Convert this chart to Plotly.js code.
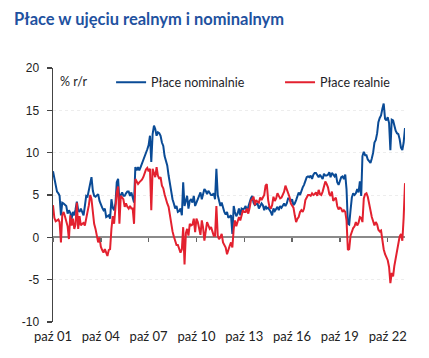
<!DOCTYPE html>
<html>
<head>
<meta charset="utf-8">
<script src="https://cdn.plot.ly/plotly-3.0.1.min.js"></script>
<style>html,body{margin:0;padding:0;background:#fff;}#chart{width:429px;height:358px;}</style>
</head>
<body>
<div id="chart"></div>
<script>
// Monthly series, first month = October 2001
const startYear = 2001, startMonth = 10;

const nominal = [
 7.8, 6.9, 5.9, 5.4, 5.2, 4.9, 2.6, 4.1, 4.0, 3.9,
 3.7, 2.8, 3.2, 2.9, 2.2, 3.0, 2.6, 3.3, 4.2, 3.2,
 3.0, 3.4, 3.0, 2.6, 3.7, 4.9, 4.8, 5.5, 6.5, 7.1,
 5.5, 4.9, 4.8, 5.0, 5.1, 4.3, 3.8, 3.5, 3.2, 3.4,
 2.4, 2.5, 2.6, 2.2, 4.5, 3.5, 3.2, 4.0, 6.5, 6.9,
 4.3, 5.0, 5.3, 4.9, 4.9, 5.2, 5.4, 5.4, 4.9, 5.3,
 4.5, 4.1, 8.3, 7.9, 8.3, 7.9, 8.3, 8.7, 9.1, 9.4,
 10.0, 10.4, 10.9, 12.0, 8.9, 12.2, 13.2, 12.8, 12.0, 12.4,
 12.3, 12.0, 11.2, 10.8, 9.6, 9.0, 8.5, 7.3, 6.3, 5.3,
 4.5, 4.0, 3.4, 3.7, 3.0, 3.1, 3.4, 2.6, 6.5, 3.7,
 4.3, 4.9, 3.4, 4.3, 4.5, 4.1, 4.9, 3.7, 4.1, 4.6,
 5.0, 5.3, 4.5, 5.2, 5.7, 5.5, 5.1, 5.5, 5.3, 5.0,
 5.0, 5.2, 4.5, 8.1, 5.0, 4.2, 3.7, 4.1, 3.5, 3.0,
 2.7, 3.0, 2.3, 2.5, 2.6, 0.4, 3.7, 3.0, 2.5, 2.8,
 3.4, 2.6, 3.4, 3.3, 3.4, 3.7, 3.0, 3.6, 4.2, 4.6,
 4.9, 4.1, 3.8, 3.9, 4.0, 3.4, 3.7, 4.0, 3.8, 3.2,
 3.7, 3.4, 3.5, 3.3, 3.0, 2.6, 3.4, 3.1, 3.3, 3.6,
 3.2, 3.7, 3.5, 3.8, 4.0, 3.7, 4.0, 4.6, 4.6, 4.2,
 4.5, 3.8, 4.0, 4.4, 4.9, 5.3, 5.0, 5.5, 5.9, 6.2,
 6.7, 7.1, 7.2, 7.1, 7.3, 6.9, 7.4, 7.6, 7.6, 7.3,
 7.1, 7.4, 7.2, 6.9, 7.5, 7.3, 7.3, 7.4, 7.7, 7.1,
 7.6, 7.4, 7.2, 7.5, 6.5, 6.2, 6.6, 7.1, 7.2, 6.9,
 7.4, 5.7, 1.6, 1.5, 3.2, 4.7, 5.2, 5.0, 5.2, 5.7,
 5.3, 6.6, 4.9, 9.6, 10.1, 9.7, 9.7, 9.2, 9.0, 8.8,
 9.3, 10.0, 11.2, 11.5, 12.3, 13.6, 14.1, 14.4, 15.2, 15.8,
 14.0, 13.8, 14.2, 13.5, 10.3, 13.9, 13.8, 13.0, 12.6, 12.3,
 12.2, 11.6, 10.6, 10.3, 11.2, 12.9
];

const real = [
 3.8, 2.3, 1.9, 2.0, 2.1, 1.8, -0.6, 2.6, 3.0, 2.5,
 1.8, 1.3, -0.2, 2.6, 1.4, 2.2, 1.0, 1.5, 4.1, 1.0,
 2.5, 1.4, 1.6, 1.7, 1.4, 2.5, 3.0, 3.8, 5.0, 4.5,
 3.0, 1.6, 1.0, 0.3, -0.6, 0.0, -1.1, -1.5, -1.8, -1.4,
 -2.0, -2.2, -1.5, -1.4, 1.0, 2.5, 1.6, 3.5, 5.3, 6.0,
 1.6, 4.9, 4.6, 4.5, 3.6, 4.0, 3.6, 3.4, 3.7, 3.4,
 3.4, 1.6, 6.9, 6.6, 6.3, 6.5, 6.6, 6.8, 7.1, 7.6,
 8.0, 8.2, 7.8, 8.1, 3.2, 8.1, 7.6, 7.1, 8.3, 7.3,
 6.9, 7.1, 6.1, 5.8, 5.1, 4.4, 4.0, 3.6, 2.4, 1.5,
 0.7, 0.1, -0.4, -0.9, -0.9, -1.3, -1.8, -1.4, 1.2, -3.2,
 0.5, 1.0, 0.2, 1.6, 1.4, 1.5, 2.2, 0.6, 2.2, 1.8,
 1.0, 0.3, 2.0, 1.2, -0.4, 0.5, 1.8, 1.4, 1.0, 1.2,
 0.6, 0.2, 0.2, 3.7, 0.2, -0.2, 0.0, 0.4, -0.6, -0.9,
 -1.2, -2.0, -1.4, -1.0, -0.6, -1.2, 1.0, 2.0, 1.3, 2.0,
 2.4, 2.0, 2.6, 3.2, 3.0, 3.0, 3.4, 2.8, 3.5, 4.3,
 4.5, 4.8, 3.8, 4.4, 4.2, 4.1, 4.7, 4.4, 4.7, 5.0,
 6.1, 6.3, 4.4, 3.6, 3.4, 3.8, 4.8, 4.3, 4.6, 5.2,
 4.9, 4.6, 4.7, 5.0, 5.4, 6.1, 5.6, 5.4, 4.8, 4.0,
 3.7, 3.5, 2.6, 1.8, 2.2, 2.4, 3.0, 3.2, 3.0, 3.4,
 4.4, 4.8, 5.0, 5.0, 4.9, 5.2, 5.0, 5.1, 5.3, 4.9,
 5.6, 5.1, 5.0, 5.4, 6.1, 6.6, 6.3, 5.9, 5.1, 4.9,
 5.4, 4.3, 4.5, 4.7, 3.7, 3.3, 3.5, 3.4, 3.0, 3.2,
 3.0, 2.0, -1.5, -1.4, 0.2, 0.8, 1.1, 1.3, 1.8, 1.4,
 1.7, 2.4, 2.3, 1.8, 4.6, 5.1, 5.2, 4.8, 4.0, 2.8,
 2.4, 1.9, 1.4, 1.8, 1.5, 0.9, 0.7, 0.8, -0.6, -1.4,
 -2.0, -2.3, -2.7, -3.5, -5.4, -4.2, -4.6, -3.4, -2.5, -1.6,
 -0.5, 0.1, 0.4, -0.4, 2.3, 6.4
];

const tickDates = ['2001-10-01','2004-10-01','2007-10-01','2010-10-01','2013-10-01','2016-10-01','2019-10-01','2022-10-01'];
const tickLabels = ['paź 01','paź 04','paź 07','paź 10','paź 13','paź 16','paź 19','paź 22'];
const yTickValues = [-10, -5, 0, 5, 10, 15, 20];
const yTickLabels = ['-10', '-5', '0', '5', '10', '15', '20'];
const seriesNames = ['Płace nominalnie', 'Płace realnie'];

// month dates
const dates = nominal.map((_, i) => {
  const t = (startMonth - 1) + i;
  const y = startYear + Math.floor(t / 12);
  const m = (t % 12) + 1;
  return y + '-' + String(m).padStart(2, '0') + '-01';
});

const BLUE = '#0a4b96', RED = '#e3212f';

const traces = [
  {x: dates, y: nominal, type: 'scatter', mode: 'lines', name: seriesNames[0],
   line: {color: BLUE, width: 2}, legend: 'legend', xaxis: 'x', yaxis: 'y'},
  {x: dates, y: real, type: 'scatter', mode: 'lines', name: seriesNames[1],
   line: {color: RED, width: 2}, legend: 'legend2', xaxis: 'x2', yaxis: 'y'}
];

const xr = [dates[0], dates[dates.length - 1]];
const legendFont = {family: 'Lato, sans-serif', size: 12.5, color: '#1e1e28'};

const layout = {
  width: 429, height: 358,
  margin: {l: 53, r: 24, t: 68, b: 36, pad: 0},
  paper_bgcolor: '#ffffff', plot_bgcolor: '#ffffff',
  title: {
    text: 'Płace w ujęciu realnym i nominalnym',
    font: {family: 'Lato, sans-serif', size: 16.5, color: '#1f52a0', weight: 700},
    x: 14 / 429, xanchor: 'left', xref: 'container',
    y: 1 - 19 / 358, yanchor: 'middle', yref: 'container'
  },
  showlegend: true,
  legend: {x: 0.165, xanchor: 'left', y: 0.942, yanchor: 'middle', orientation: 'h',
           font: legendFont, bgcolor: 'rgba(0,0,0,0)', borderwidth: 0},
  legend2: {x: 0.645, xanchor: 'left', y: 0.942, yanchor: 'middle', orientation: 'h',
           font: legendFont, bgcolor: 'rgba(0,0,0,0)', borderwidth: 0},
  xaxis: {
    type: 'date', range: xr, showgrid: false, zeroline: false, showline: false,
    ticks: '', tickmode: 'array', tickvals: tickDates, ticktext: tickLabels,
    tickfont: {family: 'Lato, sans-serif', size: 13, color: '#222'},
    ticklabelstandoff: 5, fixedrange: true
  },
  xaxis2: {
    type: 'date', range: xr, overlaying: 'x', anchor: 'free', position: 1 / 3, side: 'bottom',
    showgrid: false, zeroline: false, showline: false, showticklabels: false,
    ticks: 'outside', ticklen: 4, tickwidth: 1.5, tickcolor: '#666',
    tickmode: 'array', tickvals: tickDates, matches: 'x'
  },
  yaxis: {
    range: [-10, 20], tickmode: 'array', tickvals: yTickValues, ticktext: yTickLabels,
    showgrid: true, gridcolor: '#ededed', gridwidth: 1, griddash: 'dot',
    zeroline: true, zerolinecolor: '#8a8a8a', zerolinewidth: 2,
    showline: true, linecolor: '#444', linewidth: 1.5,
    ticks: 'outside', ticklen: 5, tickwidth: 1.5, tickcolor: '#444',
    tickfont: {family: 'Liberation Sans, Arial, sans-serif', size: 12, color: '#222'},
    ticklabelstandoff: 5, fixedrange: true
  },
  annotations: [{
    text: '% r/r', xref: 'paper', yref: 'paper', x: 0.015, y: 0.945,
    xanchor: 'left', yanchor: 'middle', showarrow: false,
    font: {family: 'Lato, sans-serif', size: 12.5, color: '#1e1e28'}
  }]
};

Plotly.newPlot('chart', traces, layout, {staticPlot: true, displayModeBar: false});
</script>
</body>
</html>
